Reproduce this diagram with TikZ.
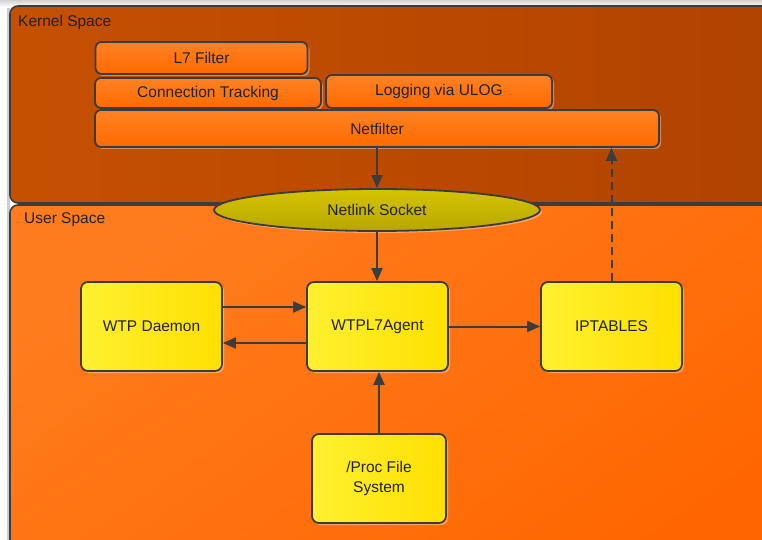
\documentclass[tikz,border=0pt]{standalone}
\usepackage{fontspec}
\setmainfont{Liberation Sans}
\usetikzlibrary{arrows.meta,shapes.geometric,shadows}

\definecolor{edge}{HTML}{3C3C3C}
\definecolor{kernelA}{HTML}{C65000}
\definecolor{kernelB}{HTML}{B04300}
\definecolor{userA}{HTML}{FF7C1E}
\definecolor{userB}{HTML}{FF6600}
\definecolor{layerA}{HTML}{FF8224}
\definecolor{layerB}{HTML}{FF6A00}
\definecolor{compA}{HTML}{FFF030}
\definecolor{compB}{HTML}{FFE000}
\definecolor{sockA}{HTML}{D4C400}
\definecolor{sockB}{HTML}{B8A600}
\definecolor{inktext}{HTML}{222222}

\tikzset{
  softshadow/.style={drop shadow={shadow xshift=2pt, shadow yshift=-2pt,
      fill=white, opacity=0.35}},
  region/.style={draw=edge, line width=1.6pt, rounded corners=8pt},
  layer/.style={draw=edge, line width=1.8pt, rounded corners=6pt,
      top color=layerA, bottom color=layerB, softshadow,
      text=inktext, inner sep=0pt},
  comp/.style={draw=edge, line width=1.8pt, rounded corners=7pt,
      left color=compA, right color=compB, softshadow,
      minimum width=141pt, minimum height=89pt, text=inktext,
      align=center, inner sep=0pt},
  socket/.style={ellipse, draw=edge, line width=1.8pt,
      top color=sockA, bottom color=sockB, softshadow,
      minimum width=326pt, minimum height=42pt, inner sep=0pt, text=inktext},
  flow/.style={draw=edge, line width=2pt,
      -{Triangle[length=13pt, width=11pt]}},
  caption/.style={anchor=west, text=inktext, inner sep=0pt},
}

\begin{document}
\begin{tikzpicture}[x=1pt, y=-1pt,
    font=\fontsize{15.5}{17}\selectfont]
  \useasboundingbox (0,0) rectangle (762,540);
  \clip (0,0) rectangle (762,540);

  % page background
  \fill[white] (0,0) rectangle (762,540);
  \shade[top color=gray!35, bottom color=white] (0,0) rectangle (762,7);
  \fill[gray!40] (7,8) rectangle (10,540);

  % the two address spaces
  \path[region, shading angle=60, left color=kernelA, right color=kernelB]
    (10,6) rectangle (790,203);
  \path[region, top color=userA, bottom color=userB, shading angle=35]
    (10,205) rectangle (790,580);
  \node[caption] (kernellabel) at (18,22) {Kernel Space};
  \node[caption] (userlabel)   at (24,220) {User Space};

  % kernel-side layers
  \node[layer, minimum width=212pt, minimum height=32pt] (l7)        at (201.5,58)  {L7 Filter};
  \node[layer, minimum width=226pt, minimum height=30pt] (conntrack) at (208,93)    {Connection Tracking};
  \node[layer, minimum width=226pt, minimum height=33pt] (ulog)      at (439,91.5)  {Logging via ULOG};
  \node[layer, minimum width=564pt, minimum height=37pt] (netfilter) at (377,128.5) {Netfilter};

  % the socket between the spaces
  \node[socket] (netlink) at (377,210) {Netlink Socket};

  % user-side components
  \node[comp] (daemon)   at (151.5,326.5) {WTP Daemon};
  \node[comp] (agent)    at (377.5,326.5) {WTPL7Agent};
  \node[comp] (iptables) at (611.5,326.5) {IPTABLES};
  \node[comp, minimum width=134pt, font=\fontsize{15.5}{20}\selectfont]
    (procfs) at (379,478.5) {/Proc File\\System};

  % connectors
  \draw[flow] (netfilter.south -| netlink.north) -- (netlink.north);
  \draw[flow] (netlink.south) -- (netlink.south |- agent.north);
  \draw[flow] ([yshift=19.5pt]daemon.east) -- ([yshift=19.5pt]agent.west);
  \draw[flow] ([yshift=-16.5pt]agent.west) -- ([yshift=-16.5pt]daemon.east);
  \draw[flow] (agent.east) -- (iptables.west);
  \draw[flow] (procfs.north) -- (procfs.north |- agent.south);
  \draw[flow, dashed, dash pattern=on 8pt off 5pt]
    (iptables.north) -- (iptables.north |- netfilter.south);
\end{tikzpicture}
\end{document}
